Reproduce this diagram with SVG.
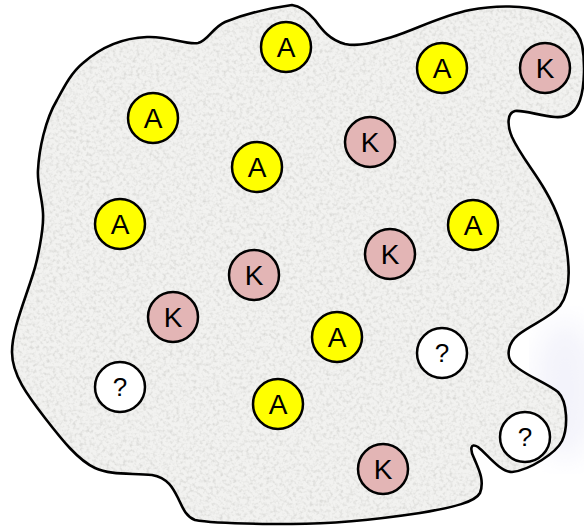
<svg xmlns="http://www.w3.org/2000/svg" width="584" height="527" viewBox="0 0 584 527">
<defs>
<filter id="grain" x="0" y="0" width="100%" height="100%">
<feTurbulence type="fractalNoise" baseFrequency="0.3" numOctaves="2" seed="7" result="n"/>
<feColorMatrix in="n" type="matrix" values="0 0 0 0 0.7  0 0 0 0 0.7  0 0 0 0 0.68  2.4 0 0 0 -1.05" result="g"/>
<feComposite in="g" in2="SourceGraphic" operator="atop"/>
</filter>
<filter id="soft"><feGaussianBlur stdDeviation="14"/></filter>
<path id="blob" d="M 292,5 C 300,6 308,12 315,20 C 322,30 330,40 345,44 C 360,47 375,42 392,37 C 415,30 440,16 470,10 C 495,5 525,5 545,12 C 565,18 578,28 582,45 C 585,60 585,85 580,100 C 576,112 568,118 555,117 C 540,116 525,110 515,111 C 507,113 507,125 512,137 C 520,155 535,172 545,190 C 558,212 566,235 568,260 C 570,280 568,295 560,306 C 550,318 530,325 518,335 C 508,343 506,356 512,363 C 522,374 545,382 558,392 C 568,402 568,428 562,441 C 556,453 530,470 512,472 C 500,472 488,455 478,447 C 470,442 470,450 474,458 C 478,468 485,480 480,493 C 475,502 455,507 420,513 C 380,519 330,524 292,524 C 260,524 215,524 195,520 C 185,516 182,506 178,498 C 173,488 168,478 152,475 C 130,473 110,475 95,468 C 78,460 62,440 45,418 C 28,396 12,375 12,352 C 12,330 25,300 33,274 C 37,262 44,230 43,213 C 42,195 37,185 38,170 C 39,150 45,120 57,100 C 65,85 72,72 83,63 C 100,48 120,38 147,37 C 170,36 185,45 198,43 C 208,41 212,28 225,22 C 245,14 270,8 292,5 Z"/>
</defs>
<style>
.node circle{stroke:#000;stroke-width:2.5}
.a circle{fill:#ffff00}
.k circle{fill:#e3b5b5}
.q circle{fill:#ffffff}
.node text{font-family:"Liberation Sans",Arial,sans-serif;font-size:28px;text-anchor:middle;fill:#000}
.q text{font-size:26px}
</style>
<rect width="584" height="527" fill="#ffffff"/>
<ellipse cx="565" cy="390" rx="30" ry="70" fill="#f3f3fb" filter="url(#soft)"/>
<g id="region">
<use href="#blob" fill="#f2f2f0" filter="url(#grain)"/>
<use href="#blob" fill="none" stroke="#000" stroke-width="2.6"/>
</g>
<g id="connectors"/>
<g id="a1" class="node a"><circle cx="286" cy="47" r="25"/><text x="286" y="57">A</text></g>
<g id="a2" class="node a"><circle cx="442" cy="68" r="25"/><text x="442" y="78">A</text></g>
<g id="a3" class="node a"><circle cx="153" cy="118" r="25"/><text x="153" y="128">A</text></g>
<g id="a4" class="node a"><circle cx="257" cy="167" r="25"/><text x="257" y="177">A</text></g>
<g id="a5" class="node a"><circle cx="120" cy="224" r="25"/><text x="120" y="234">A</text></g>
<g id="a6" class="node a"><circle cx="473" cy="225" r="25"/><text x="473" y="235">A</text></g>
<g id="a7" class="node a"><circle cx="337" cy="337" r="25"/><text x="337" y="347">A</text></g>
<g id="a8" class="node a"><circle cx="278" cy="404" r="25"/><text x="278" y="414">A</text></g>
<g id="k1" class="node k"><circle cx="545" cy="68" r="25"/><text x="545" y="78">K</text></g>
<g id="k2" class="node k"><circle cx="370" cy="142" r="25"/><text x="370" y="152">K</text></g>
<g id="k3" class="node k"><circle cx="390" cy="254" r="25"/><text x="390" y="264">K</text></g>
<g id="k4" class="node k"><circle cx="254" cy="275" r="25"/><text x="254" y="285">K</text></g>
<g id="k5" class="node k"><circle cx="173" cy="317" r="25"/><text x="173" y="327">K</text></g>
<g id="k6" class="node k"><circle cx="383" cy="469" r="25"/><text x="383" y="479">K</text></g>
<g id="q1" class="node q"><circle cx="120" cy="387" r="25"/><text x="120" y="396">?</text></g>
<g id="q2" class="node q"><circle cx="442" cy="353" r="25"/><text x="442" y="362">?</text></g>
<g id="q3" class="node q"><circle cx="525" cy="437" r="25"/><text x="525" y="446">?</text></g>
</svg>
